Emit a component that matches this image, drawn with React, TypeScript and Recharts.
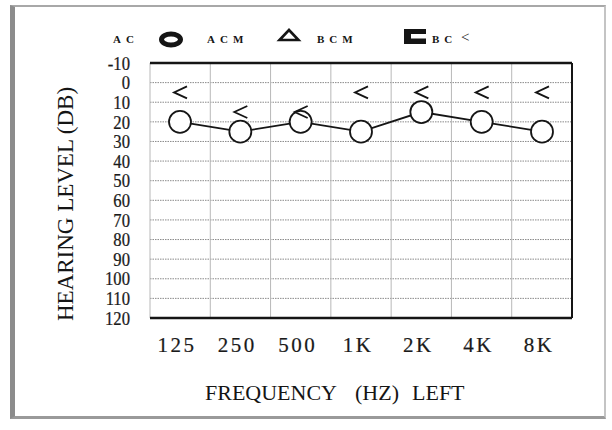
import React from 'react';
import { LineChart, Line, XAxis, YAxis, CartesianGrid, Customized } from 'recharts';

// ---- data ----
const frequencies = ['125', '250', '500', '1K', '2K', '4K', '8K'];
const acLevels = [20, 25, 20, 25, 15, 20, 25];
const bcLevels = [5, 15, 15, 5, 5, 5, 5];
const levelTicks = [-10, 0, 10, 20, 30, 40, 50, 60, 70, 80, 90, 100, 110, 120];
const yTitle = 'HEARING LEVEL (DB)';
const xTitleParts = ['FREQUENCY', '(HZ)', 'LEFT'];
const legendLabels = ['AC', 'ACM', 'BCM', 'BC'];

const data = frequencies.map((f, i) => ({ freq: f, ac: acLevels[i], bc: bcLevels[i] }));

const INK = '#151515';
const SERIF = '"Liberation Serif", "Times New Roman", serif';

const BcMarker = (props: any) => {
  const { cx, cy } = props;
  if (cx == null || cy == null) return null;
  return (
    <path
      d={`M${cx + 7},${cy - 6} L${cx - 6},${cy} L${cx + 7},${cy + 6}`}
      fill="none"
      stroke={INK}
      strokeWidth={1.8}
    />
  );
};

const XTick = (props: any) => {
  const { x, y, payload } = props;
  return (
    <text
      x={x - 3}
      y={y}
      dy="0.72em"
      textAnchor="middle"
      fontFamily={SERIF}
      fontSize={21}
      letterSpacing={2.5}
      fill="#1a1a1a"
      stroke="#1a1a1a"
      strokeWidth={0.2}
    >
      {payload.value}
    </text>
  );
};

const YTick = (props: any) => {
  const { x, y, payload } = props;
  return (
    <text
      transform={`translate(${x},${y}) scale(0.9,1)`}
      x={0}
      y={0}
      dy="0.36em"
      textAnchor="end"
      fontFamily={SERIF}
      fontSize={18.5}
      fill="#1a1a1a"
      stroke="#1a1a1a"
      strokeWidth={0.25}
    >
      {payload.value}
    </text>
  );
};

const Decorations = () => {
  const legendText = {
    fontFamily: SERIF,
    fontSize: 11,
    fontWeight: 700,
    fill: INK,
    letterSpacing: 5,
  } as const;
  return (
    <g>
      {/* legend */}
      <text x={113} y={43} {...legendText}>{legendLabels[0]}</text>
      <ellipse cx={171} cy={39.5} rx={9.5} ry={5.5} fill="none" stroke={INK} strokeWidth={5} />
      <text x={207} y={43} {...legendText}>{legendLabels[1]}</text>
      <path d="M289,30 L279.5,40 L298.5,40 Z" fill="none" stroke={INK} strokeWidth={2.6} strokeLinejoin="miter" />
      <text x={317} y={43} {...legendText}>{legendLabels[2]}</text>
      <path d="M404,29 L426,29 L426,34 L411,34 L411,38.5 L426,38.5 L426,44 L404,44 Z" fill={INK} />
      <text x={432} y={43} {...legendText}>{legendLabels[3]}</text>
      <text x={461} y={42} fontFamily={SERIF} fontSize={15} fill={INK}>{'<'}</text>
      {/* y title */}
      <text
        x={73}
        y={204}
        transform="rotate(-90, 73, 204)"
        textAnchor="middle"
        fontFamily={SERIF}
        fontSize={23}
        fill={INK}
      >
        {yTitle}
      </text>
      {/* x title */}
      <text x={205} y={400} fontFamily={SERIF} fontSize={22} fill={INK}>{xTitleParts[0]}</text>
      <text x={355} y={400} fontFamily={SERIF} fontSize={22} fill={INK}>{xTitleParts[1]}</text>
      <text x={412} y={400} fontFamily={SERIF} fontSize={22} fill={INK}>{xTitleParts[2]}</text>
    </g>
  );
};

const verticalBoundaries = (props: any) => {
  const off = props && props.offset ? props.offset : { left: 150, width: 422 };
  const n = frequencies.length;
  return Array.from({ length: n + 1 }, (_, i) => off.left + (i * off.width) / n);
};

export default function App() {
  return (
    <div
      style={{
        position: 'absolute',
        left: 0,
        top: 0,
        width: 612,
        height: 430,
        background: '#fff',
        fontFamily: SERIF,
      }}
    >
      <div
        style={{
          position: 'absolute',
          left: 10,
          top: 5,
          width: 596,
          height: 414,
          boxSizing: 'border-box',
          borderLeft: '5px solid #8c8c8c',
          borderTop: '2px solid #a8a8a8',
          borderRight: '2px solid #c4c4c4',
          borderBottom: '3px solid #9a9a9a',
        }}
      />
      <div style={{ position: 'absolute', left: 0, top: 0 }}>
        <LineChart
          width={612}
          height={430}
          data={data}
          margin={{ top: 62, right: 39, bottom: 52, left: 130 }}
        >
          <CartesianGrid
            horizontal={true}
            vertical={false}
            stroke="#8a8a8a"
            strokeDasharray="1.5 1"
            strokeWidth={1}
          />
          <CartesianGrid
            horizontal={false}
            vertical={true}
            stroke="#b8b8b8"
            strokeWidth={1}
            verticalCoordinatesGenerator={verticalBoundaries}
          />
          <XAxis
            dataKey="freq"
            type="category"
            interval={0}
            padding={{ left: 30, right: 30 }}
            height={60}
            tickSize={0}
            tickMargin={19}
            axisLine={{ stroke: INK, strokeWidth: 2.5 }}
            tickLine={false}
            tick={<XTick />}
          />
          <XAxis
            xAxisId="top"
            dataKey="freq"
            orientation="top"
            height={1}
            tick={false}
            tickLine={false}
            padding={{ left: 30, right: 30 }}
            axisLine={{ stroke: INK, strokeWidth: 2.5 }}
          />
          <YAxis
            type="number"
            reversed
            domain={[-10, 120]}
            ticks={levelTicks}
            interval={0}
            width={20}
            tickSize={0}
            tickMargin={20}
            axisLine={false}
            tickLine={false}
            tick={<YTick />}
          />
          <YAxis
            yAxisId="right"
            orientation="right"
            type="number"
            reversed
            domain={[-10, 120]}
            width={1}
            tick={false}
            tickLine={false}
            axisLine={{ stroke: INK, strokeWidth: 2 }}
          />
          <Line
            dataKey="ac"
            stroke={INK}
            strokeWidth={1.8}
            dot={{ r: 11, fill: '#fff', stroke: INK, strokeWidth: 1.8 }}
            activeDot={false}
            isAnimationActive={false}
          />
          <Line
            dataKey="bc"
            stroke="none"
            dot={<BcMarker />}
            activeDot={false}
            isAnimationActive={false}
          />
          <Customized component={<Decorations />} />
        </LineChart>
      </div>
    </div>
  );
}
